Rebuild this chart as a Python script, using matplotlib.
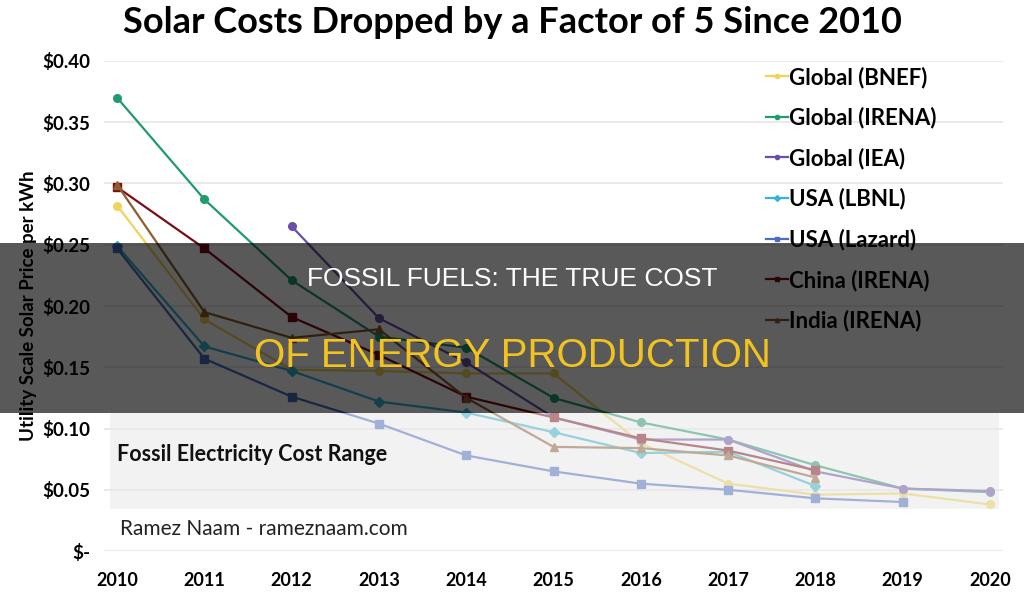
import matplotlib
matplotlib.use("Agg")
import matplotlib.pyplot as plt
from matplotlib.patches import Rectangle
import numpy as np

plt.rcParams["font.family"] = ["Lato", "DejaVu Sans"]

years = list(range(2010, 2021))

# values ($ per kWh); None = no data
bnef = [0.282, 0.189, 0.148, 0.147, 0.145, 0.145, 0.088, 0.055, 0.046, 0.047, 0.038]
irena = [0.370, 0.287, 0.221, 0.175, 0.166, 0.125, 0.105, 0.091, 0.070, 0.051, 0.048]
iea = [None, None, 0.265, 0.190, 0.154, 0.109, 0.091, 0.091, 0.065, 0.051, 0.049]
lbnl = [0.249, 0.167, 0.147, 0.122, 0.113, 0.097, 0.080, 0.081, 0.053, None, None]
lazard = [0.247, 0.157, 0.126, 0.104, 0.078, 0.065, 0.055, 0.050, 0.043, 0.040, None]
china = [0.297, 0.247, 0.191, 0.160, 0.126, 0.109, 0.092, 0.082, 0.066, None, None]
india = [0.299, 0.195, 0.174, 0.181, 0.125, 0.085, 0.084, 0.078, 0.060, None, None]

series = [
    ("Global (BNEF)", bnef, "#f2d35a", "o"),
    ("Global (IRENA)", irena, "#1f9b6c", "o"),
    ("Global (IEA)", iea, "#6a4ea8", "o"),
    ("USA (LBNL)", lbnl, "#34b4d2", "D"),
    ("USA (Lazard)", lazard, "#4a6dbf", "s"),
    ("China (IRENA)", china, "#7c0c18", "s"),
    ("India (IRENA)", india, "#8c5e30", "^"),
]

yticks = [0.0, 0.05, 0.10, 0.15, 0.20, 0.25, 0.30, 0.35, 0.40]
ytick_labels = ["$-", "$0.05", "$0.10", "$0.15", "$0.20", "$0.25", "$0.30", "$0.35", "$0.40"]
fossil_range = (0.0345, 0.1127)

fig = plt.figure(figsize=(10.24, 5.95), dpi=100)
ax = fig.add_axes([0.1016, 0.0739, 0.878, 0.8236])

for name, vals, color, marker in series:
    y = np.array([np.nan if v is None else v for v in vals])
    ax.plot(years, y, color=color, lw=1.6, marker=marker, ms=5.5,
            label=name, zorder=3)

# pale grey fossil-cost band drawn over the lines (washes them out)
ax.add_patch(Rectangle((2009.92, fossil_range[0]), 10.18,
                       fossil_range[1] - fossil_range[0],
                       facecolor="#e9e9e9", alpha=0.55, lw=0, zorder=4))
ax.text(2010.0, 0.079, "Fossil Electricity Cost Range", fontsize=15.5,
        fontweight="bold", color="#111111", va="center", zorder=5)
ax.text(2010.03, 0.018, "Ramez Naam - rameznaam.com", fontsize=15,
        color="#222222", va="center", zorder=5)

ax.set_xlim(2009.85, 2020.15)
ax.set_ylim(0, 0.40)
ax.set_xticks(years)
ax.set_xticklabels([str(y) for y in years], fontsize=13, fontweight="bold")
ax.set_yticks(yticks)
ax.set_yticklabels(ytick_labels, fontsize=13.5, fontweight="bold")
ax.tick_params(axis="y", length=0, pad=10)
ax.tick_params(axis="x", length=0, pad=15)
ax.grid(axis="y", color="#e6e6e6", lw=1.2)
ax.set_axisbelow(True)
for s in ax.spines.values():
    s.set_visible(False)
ax.set_ylabel("Utility Scale Solar Price per kWh", fontsize=13.5,
              fontweight="bold", labelpad=4)

leg = ax.legend(loc="upper left", bbox_to_anchor=(0.714, 1.03),
                frameon=False, fontsize=16, handlelength=1.0,
                handletextpad=0.05, labelspacing=0.85, markerscale=0.55)
for t in leg.get_texts():
    t.set_fontweight("bold")

fig.text(0.5, 0.963, "Solar Costs Dropped by a Factor of 5 Since 2010",
         ha="center", va="center", fontsize=26, fontweight="bold")

# dark translucent banner with headline
fig.patches.append(Rectangle((0, 0.3059), 1, 0.2857, transform=fig.transFigure,
                             facecolor="black", alpha=0.65, lw=0, zorder=10))
fig.text(0.5, 0.531, "FOSSIL FUELS: THE TRUE COST", ha="center", va="center",
         fontsize=19, color="white", family="Liberation Sans", zorder=11)
fig.text(0.5, 0.402, "OF ENERGY PRODUCTION", ha="center", va="center",
         fontsize=29, color="#f2c31f", family="Liberation Sans", zorder=11)

fig.savefig("out.png", dpi=100)
